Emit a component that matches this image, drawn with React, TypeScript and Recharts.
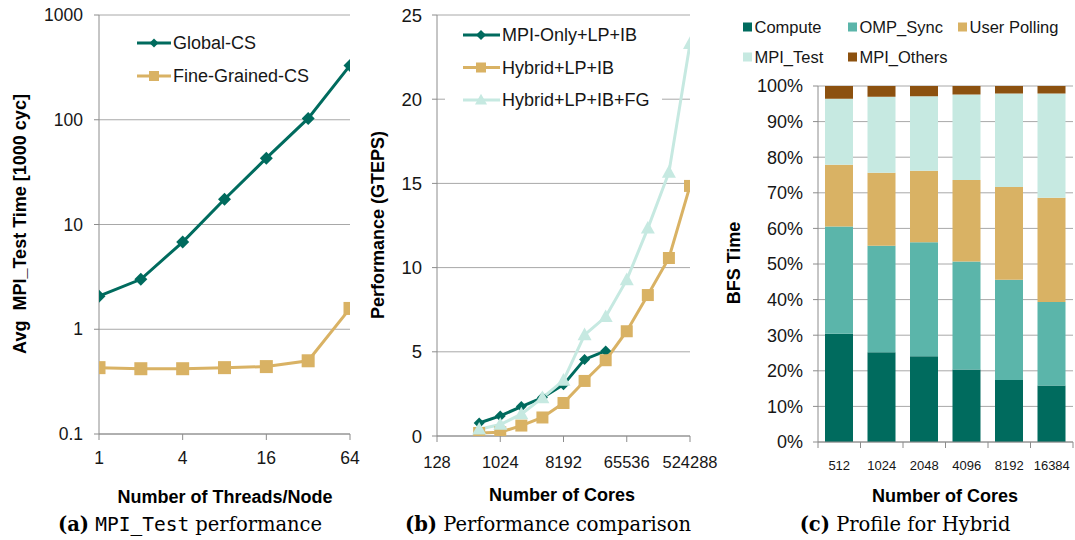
import React from 'react';
import { LineChart, Line, XAxis, YAxis, CartesianGrid, BarChart, Bar, Legend } from 'recharts';

// ---------- Panel (a) data ----------
const threads = [1, 2, 4, 8, 16, 32, 64];
const globalCS = [2.07, 3.0, 6.8, 17.4, 43, 103, 330];
const fineGrainedCS = [0.43, 0.42, 0.42, 0.43, 0.44, 0.5, 1.58];
const threadTicks = [1, 4, 16, 64];
const timeTicks = [0.1, 1, 10, 100, 1000];

// ---------- Panel (b) data ----------
const cores = [512, 1024, 2048, 4096, 8192, 16384, 32768, 65536, 131072, 262144, 524288];
const mpiOnly = [0.77, 1.19, 1.75, 2.28, 3.05, 4.55, 5.05, null, null, null, null];
const hybrid = [0.18, 0.22, 0.62, 1.1, 1.96, 3.27, 4.5, 6.22, 8.37, 10.57, 14.85];
const hybridFG = [0.4, 0.68, 1.3, 2.26, 3.3, 6.0, 7.08, 9.27, 12.33, 15.65, 23.3];
const coreTicks = [128, 1024, 8192, 65536, 524288];
const perfTicks = [0, 5, 10, 15, 20, 25];

// ---------- Panel (c) data ----------
const profileCores = ['512', '1024', '2048', '4096', '8192', '16384'];
const compute = [30.4, 25.2, 24.1, 20.4, 17.4, 15.9];
const ompSync = [30.1, 29.9, 32.0, 30.3, 28.2, 23.4];
const userPolling = [17.4, 20.5, 20.1, 22.9, 26.0, 29.3];
const mpiTest = [18.5, 21.4, 20.9, 24.0, 26.3, 29.3];
const mpiOthers = [3.6, 3.0, 2.9, 2.4, 2.1, 2.1];
const pctTicks = [0, 10, 20, 30, 40, 50, 60, 70, 80, 90, 100];

// ---------- styles ----------
const FONT = '"Liberation Sans", Arial, Helvetica, sans-serif';
const SERIF = '"DejaVu Serif", "Liberation Serif", serif';
const MONO = '"DejaVu Sans Mono", "Liberation Mono", monospace';
const TEAL = '#006b5e';
const GOLD = '#d9b264';
const MINT = '#c6e9e1';
const OMP = '#5bb5aa';
const BROWN = '#8c510f';
const GRID = '#a8a8a8';
const AXIS = '#8c8c8c';
const TXT = '#161616';

const seriesA = [
  { key: 'g', name: 'Global-CS', color: TEAL, shape: 'diamond' },
  { key: 'f', name: 'Fine-Grained-CS', color: GOLD, shape: 'square' },
];
const seriesB = [
  { key: 'm', name: 'MPI-Only+LP+IB', color: TEAL, shape: 'diamond' },
  { key: 'h', name: 'Hybrid+LP+IB', color: GOLD, shape: 'square' },
  { key: 'fg', name: 'Hybrid+LP+IB+FG', color: MINT, shape: 'triangle' },
];
const seriesC = [
  { key: 'compute', name: 'Compute', color: TEAL },
  { key: 'omp', name: 'OMP_Sync', color: OMP },
  { key: 'up', name: 'User Polling', color: GOLD },
  { key: 'test', name: 'MPI_Test', color: MINT },
  { key: 'others', name: 'MPI_Others', color: BROWN },
];

const dataA = threads.map((t, i) => ({ t, g: globalCS[i], f: fineGrainedCS[i] }));
const dataB = cores.map((c, i) => ({ c, m: mpiOnly[i], h: hybrid[i], fg: hybridFG[i] }));
const dataC = profileCores.map((c, i) => ({
  c,
  compute: compute[i],
  omp: ompSync[i],
  up: userPolling[i],
  test: mpiTest[i],
  others: mpiOthers[i],
}));

function marker(shape: string, cx: number, cy: number, s: number, color: string, key?: any) {
  if (shape === 'diamond') {
    return (
      <polygon key={key} points={`${cx},${cy - s} ${cx + s},${cy} ${cx},${cy + s} ${cx - s},${cy}`} fill={color} />
    );
  }
  if (shape === 'square') {
    return <rect key={key} x={cx - s} y={cy - s} width={2 * s} height={2 * s} fill={color} />;
  }
  return (
    <polygon
      key={key}
      points={`${cx},${cy - s * 1.05} ${cx + s},${cy + s * 0.75} ${cx - s},${cy + s * 0.75}`}
      fill={color}
    />
  );
}

const dotFn = (shape: string, size: number, color: string) => (p: any) => {
  if (p == null || p.cx == null || p.cy == null || p.value == null || (Array.isArray(p.value) && p.value[1] == null)) {
    return <g key={`e${p && p.index}`} />;
  }
  return marker(shape, p.cx, p.cy, size, color, `d${p.index}`);
};

const tickStyle = (size: number) => ({ fontSize: size, fontFamily: FONT, fill: TXT });

const LegendA = () => (
  <svg width={220} height={60} style={{ display: 'block' }}>
    {seriesA.map((s, i) => {
      const y = 12 + 33 * i;
      return (
        <g key={s.key}>
          <line x1={0} x2={34} y1={y} y2={y} stroke={s.color} strokeWidth={3} />
          {marker(s.shape, 17, y, s.shape === 'square' ? 5 : 4.5, s.color)}
          <text x={36} y={y} dy="0.36em" fontSize={18} fontFamily={FONT} fill={TXT}>
            {s.name}
          </text>
        </g>
      );
    })}
  </svg>
);

const LegendB = () => (
  <svg width={217} height={94} style={{ display: 'block', background: '#fff' }}>
    {seriesB.map((s, i) => {
      const y = 15 + 32.5 * i;
      return (
        <g key={s.key}>
          <line x1={18} x2={55} y1={y} y2={y} stroke={s.color} strokeWidth={3} />
          {marker(s.shape, 36, y, s.shape === 'triangle' ? 6 : 5, s.color)}
          <text x={57} y={y} dy="0.36em" fontSize={18} fontFamily={FONT} fill={TXT}>
            {s.name}
          </text>
        </g>
      );
    })}
  </svg>
);

const legendCPos = [
  { x: 3, y: 15 },
  { x: 108, y: 15 },
  { x: 218, y: 15 },
  { x: 3, y: 45 },
  { x: 108, y: 45 },
];
const LegendC = () => (
  <svg width={335} height={60} style={{ display: 'block' }}>
    {seriesC.map((s, i) => {
      const p = legendCPos[i];
      return (
        <g key={s.key}>
          <rect x={p.x} y={p.y - 4.5} width={9} height={9} fill={s.color} />
          <text x={p.x + 11.5} y={p.y} dy="0.36em" fontSize={16.5} fontFamily={FONT} fill={TXT}>
            {s.name}
          </text>
        </g>
      );
    })}
  </svg>
);

const HALF_BAND = 255 / 12;
const CTick = (props: any) => {
  const { x, y, payload, index } = props;
  const axisY = y - 6 - 17;
  return (
    <g>
      {index === 0 && <line x1={x - HALF_BAND} x2={x - HALF_BAND} y1={axisY} y2={axisY + 6} stroke={AXIS} />}
      <line x1={x + HALF_BAND} x2={x + HALF_BAND} y1={axisY} y2={axisY + 6} stroke={AXIS} />
      <text x={x} y={y} dy="0.36em" textAnchor="middle" fontSize={13} fontFamily={FONT} fill={TXT}>
        {payload.value}
      </text>
    </g>
  );
};

const absTitle = (text: string, cx: number, cy: number, rotate = false) => (
  <div
    style={{
      position: 'absolute',
      left: cx - 200,
      top: cy - 12,
      width: 400,
      height: 24,
      lineHeight: '24px',
      textAlign: 'center',
      fontFamily: FONT,
      fontWeight: 'bold',
      fontSize: 18,
      color: '#000',
      transform: rotate ? 'rotate(-90deg)' : undefined,
      whiteSpace: 'pre',
    }}
  >
    {text}
  </div>
);

const caption = (label: string, content: React.ReactNode, cx: number) => (
  <div
    style={{
      position: 'absolute',
      left: cx - 200,
      top: 512,
      width: 400,
      height: 26,
      lineHeight: '26px',
      textAlign: 'center',
      fontFamily: SERIF,
      fontSize: 19.5,
      color: '#000',
      whiteSpace: 'nowrap',
    }}
  >
    <span style={{ fontWeight: 'bold' }}>{label}</span> {content}
  </div>
);

export default function App() {
  return (
    <div style={{ position: 'absolute', left: 0, top: 0, width: 1075, height: 540, background: '#fff', overflow: 'hidden' }}>
      {/* Panel (a) */}
      <div style={{ position: 'absolute', left: 0, top: 0 }}>
        <LineChart width={370} height={480} data={dataA} margin={{ top: 15, right: 20, left: 0, bottom: 16 }}>
          <CartesianGrid horizontal vertical={false} stroke={GRID} />
          <XAxis
            dataKey="t"
            type="number"
            scale="log"
            domain={[1, 64]}
            ticks={threadTicks}
            height={30}
            tickSize={6}
            tickMargin={12}
            stroke={AXIS}
            tick={tickStyle(17.5)}
            allowDataOverflow
          />
          <YAxis
            type="number"
            scale="log"
            domain={[0.1, 1000]}
            ticks={timeTicks}
            width={99}
            tickSize={5}
            tickMargin={11}
            stroke={AXIS}
            tick={tickStyle(17.5)}
            allowDataOverflow
          />
          <Legend
            layout="vertical"
            align="center"
            verticalAlign="middle"
            content={() => <LegendA />}
            wrapperStyle={{ left: 137, top: 31, width: 220, height: 60 }}
          />
          <Line dataKey="g" name="Global-CS" stroke={TEAL} strokeWidth={3} dot={dotFn('diamond', 6.5, TEAL)} isAnimationActive={false} />
          <Line dataKey="f" name="Fine-Grained-CS" stroke={GOLD} strokeWidth={3} dot={dotFn('square', 6.5, GOLD)} isAnimationActive={false} />
        </LineChart>
      </div>

      {/* Panel (b) */}
      <div style={{ position: 'absolute', left: 360, top: 0 }}>
        <LineChart width={380} height={480} data={dataB} margin={{ top: 15, right: 50, left: 0, bottom: 14 }}>
          <CartesianGrid horizontal vertical={false} stroke={GRID} />
          <XAxis
            dataKey="c"
            type="number"
            scale="log"
            domain={[128, 524288]}
            ticks={coreTicks}
            height={30}
            tickSize={6}
            tickMargin={14}
            stroke={AXIS}
            tick={tickStyle(16.5)}
            interval={0}
            allowDataOverflow
          />
          <YAxis
            type="number"
            domain={[0, 25]}
            ticks={perfTicks}
            width={77}
            tickSize={5}
            tickMargin={10}
            stroke={AXIS}
            tick={tickStyle(18.5)}
            allowDataOverflow
          />
          <Line dataKey="m" name="MPI-Only+LP+IB" stroke={TEAL} strokeWidth={3} dot={dotFn('diamond', 5.5, TEAL)} isAnimationActive={false} />
          <Line dataKey="h" name="Hybrid+LP+IB" stroke={GOLD} strokeWidth={3} dot={dotFn('square', 6, GOLD)} isAnimationActive={false} />
          <Line dataKey="fg" name="Hybrid+LP+IB+FG" stroke={MINT} strokeWidth={3} dot={dotFn('triangle', 7, MINT)} isAnimationActive={false} />
          <Legend
            layout="vertical"
            align="center"
            verticalAlign="middle"
            content={() => <LegendB />}
            wrapperStyle={{ left: 85, top: 20, width: 217, height: 94 }}
          />
        </LineChart>
      </div>

      {/* Panel (c) */}
      <div style={{ position: 'absolute', left: 700, top: 0 }}>
        <BarChart width={375} height={480} data={dataC} margin={{ top: 86, right: 2, left: 0, bottom: 8 }} barSize={28}>
          <CartesianGrid horizontal vertical={false} stroke={GRID} />
          <XAxis
            dataKey="c"
            height={30}
            tickSize={6}
            tickMargin={17}
            tickLine={false}
            stroke={AXIS}
            tick={<CTick />}
            interval={0}
          />
          <YAxis
            type="number"
            domain={[0, 100]}
            ticks={pctTicks}
            tickFormatter={(v: number) => `${v}%`}
            width={118}
            tickSize={5}
            tickMargin={10}
            stroke={AXIS}
            tick={tickStyle(18)}
            allowDataOverflow
          />
          <Legend
            layout="vertical"
            align="center"
            verticalAlign="middle"
            content={() => <LegendC />}
            wrapperStyle={{ left: 40, top: 12, width: 335, height: 60 }}
          />
          {seriesC.map((s) => (
            <Bar key={s.key} dataKey={s.key} name={s.name} stackId="a" fill={s.color} isAnimationActive={false} />
          ))}
        </BarChart>
      </div>

      {/* Axis titles */}
      {absTitle('Number of Threads/Node', 225, 497)}
      {absTitle('Avg  MPI_Test Time [1000 cyc]', 20, 224, true)}
      {absTitle('Number of Cores', 562, 495)}
      {absTitle('Performance (GTEPS)', 378, 225, true)}
      {absTitle('Number of Cores', 945, 496)}
      {absTitle('BFS Time', 734, 263, true)}

      {/* Captions */}
      {caption('(a)', <><span style={{ fontFamily: MONO }}>MPI_Test</span> performance</>, 190)}
      {caption('(b)', 'Performance comparison', 548)}
      {caption('(c)', 'Profile for Hybrid', 905)}
    </div>
  );
}
